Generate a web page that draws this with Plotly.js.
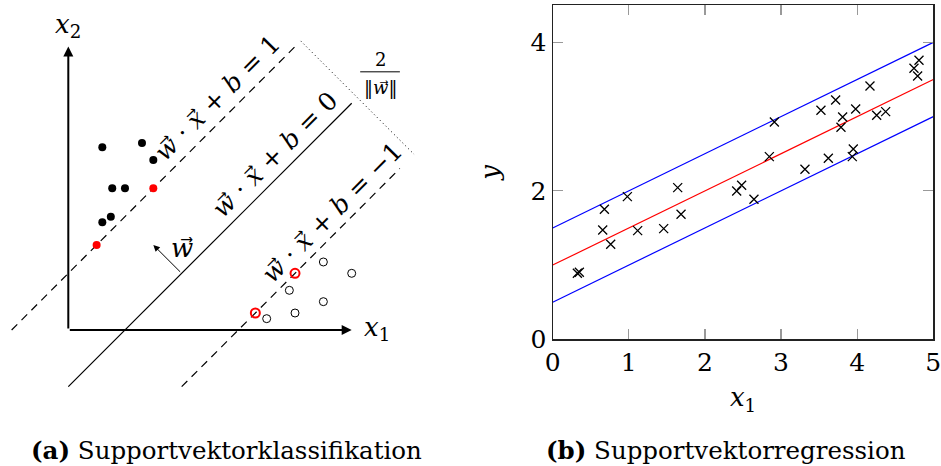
<!DOCTYPE html>
<html><head><meta charset="utf-8">
<script src="https://cdn.plot.ly/plotly-3.0.1.min.js"></script>
<style>html,body{margin:0;padding:0;background:#fff}#chart{width:941px;height:466px}</style>
</head><body><div id="chart"></div>
<script>
// ---- Panel (a): support vector classification (schematic units) ----
const classAx = [1.2, 2.6, 3.0, 1.55, 2.0, 1.2, 1.5];
const classAy = [6.45, 6.6, 6.0, 5.0, 5.0, 3.8, 4.0];
const svAx = [3.0, 1.0];
const svAy = [5.0, 3.0];
const classBx = [9.0, 10.0, 7.8, 9.0, 8.0, 7.0];
const classBy = [2.4, 2.0, 1.4, 1.0, 0.6, 0.4];
const svBx = [8.0, 6.6];
const svBy = [2.0, 0.6];
const hyperX = [0, 10],        hyperY = [-2, 8];
const marginPlusX = [-2, 8],   marginPlusY = [0, 10];
const marginMinusX = [4, 11.7], marginMinusY = [-2, 5.7];
const widthX = [8.2, 12.2],    widthY = [10.2, 6.2];
const wArrowX = [4, 3],        wArrowY = [2, 3];
const axisLen = 10;

// ---- Panel (b): support vector regression ----
const svrX = [0.324, 0.350, 0.679, 0.657, 0.762, 0.981, 1.116, 1.458, 1.642, 1.686,
              2.417, 2.482, 2.644, 2.846, 2.912, 3.314, 3.524, 3.621, 3.717, 3.809,
              3.787, 3.949, 3.936, 3.980, 4.168, 4.256, 4.374, 4.746, 4.812, 4.794];
const svrY = [0.889, 0.903, 1.752, 1.473, 1.280, 1.922, 1.464, 1.491, 2.043, 1.684,
              1.998, 2.075, 1.886, 2.461, 2.928, 2.290, 3.085, 2.439, 3.225, 2.996,
              2.856, 2.564, 2.461, 3.103, 3.413, 3.018, 3.067, 3.651, 3.759, 3.548];
const fitX = [0, 5];
const fitY = [1, 3.5];
const upperY = [1.5, 4];
const lowerY = [0.5, 3];
const xTicks = [0, 1, 2, 3, 4, 5];
const yTicks = [0, 2, 4];

const FONT = 'DejaVu Serif';
const ARROW = '<span style="font-family:DejaVu Sans">\u20d7</span>';
const vec = v => '<i>' + v + '</i>' + ARROW;

const traces = [
  {x: hyperX, y: hyperY, mode: 'lines', line: {color: '#000', width: 1.2}, xaxis: 'x', yaxis: 'y'},
  {x: marginPlusX, y: marginPlusY, mode: 'lines', line: {color: '#000', width: 1.2, dash: '8px,6px'}, xaxis: 'x', yaxis: 'y'},
  {x: marginMinusX, y: marginMinusY, mode: 'lines', line: {color: '#000', width: 1.2, dash: '8px,6px'}, xaxis: 'x', yaxis: 'y'},
  {x: widthX, y: widthY, mode: 'lines', line: {color: '#000', width: 1, dash: '1px,3px'}, xaxis: 'x', yaxis: 'y'},
  {x: classAx, y: classAy, mode: 'markers', marker: {color: '#000', size: 8}, xaxis: 'x', yaxis: 'y'},
  {x: svAx, y: svAy, mode: 'markers', marker: {color: '#ff0000', size: 8}, xaxis: 'x', yaxis: 'y'},
  {x: classBx, y: classBy, mode: 'markers', marker: {symbol: 'circle-open', color: '#000', size: 8, line: {width: 1}}, xaxis: 'x', yaxis: 'y'},
  {x: svBx, y: svBy, mode: 'markers', marker: {symbol: 'circle-open', color: '#ff0000', size: 9, line: {width: 2}}, xaxis: 'x', yaxis: 'y'},
  // panel b
  {x: fitX, y: upperY, mode: 'lines', line: {color: '#0000ff', width: 1.2}, xaxis: 'x2', yaxis: 'y2'},
  {x: fitX, y: fitY, mode: 'lines', line: {color: '#ff0000', width: 1.2}, xaxis: 'x2', yaxis: 'y2'},
  {x: fitX, y: lowerY, mode: 'lines', line: {color: '#0000ff', width: 1.2}, xaxis: 'x2', yaxis: 'y2'},
  {x: svrX, y: svrY, mode: 'markers', marker: {symbol: 'x-thin', size: 9, color: '#000', line: {color: '#000', width: 1.3}}, xaxis: 'x2', yaxis: 'y2'}
];

const U = 28.34; // px per schematic unit
const mathFont = {family: FONT, size: 25, color: '#000'};
const annotations = [
  // axis arrows
  {x: axisLen, y: 0, ax: 0, ay: 0, xref: 'x', yref: 'y', axref: 'x', ayref: 'y', showarrow: true, arrowhead: 2, arrowsize: 1, arrowwidth: 2, arrowcolor: '#000', text: ''},
  {x: 0, y: axisLen, ax: 0, ay: 0, xref: 'x', yref: 'y', axref: 'x', ayref: 'y', showarrow: true, arrowhead: 2, arrowsize: 1, arrowwidth: 2, arrowcolor: '#000', text: ''},
  {x: wArrowX[1], y: wArrowY[1], ax: wArrowX[0], ay: wArrowY[0], xref: 'x', yref: 'y', axref: 'x', ayref: 'y', showarrow: true, arrowhead: 2, arrowsize: 1.3, arrowwidth: 1, arrowcolor: '#000', text: ''},
  {x: 10.9, y: 0.07, xref: 'x', yref: 'y', xanchor: 'center', text: '<i>x</i><sub>1</sub>', showarrow: false, font: {family: FONT, size: 26}},
  {x: 0, y: 10.76, xref: 'x', yref: 'y', xanchor: 'center', text: '<i>x</i><sub>2</sub>', showarrow: false, font: {family: FONT, size: 26}},
  {x: 4.0, y: 2.9, xref: 'x', yref: 'y', xanchor: 'center', text: vec('w'), showarrow: false, font: {family: FONT, size: 26}},
  {x: 5.28, y: 8.19, xref: 'x', yref: 'y', xanchor: 'center', yanchor: 'middle', text: vec('w') + ' · ' + vec('x') + ' + <i>b</i> = 1', textangle: -45, showarrow: false, font: mathFont},
  {x: 7.29, y: 6.21, xref: 'x', yref: 'y', xanchor: 'center', yanchor: 'middle', text: vec('w') + ' · ' + vec('x') + ' + <i>b</i> = 0', textangle: -45, showarrow: false, font: mathFont},
  {x: 9.31, y: 4.16, xref: 'x', yref: 'y', xanchor: 'center', yanchor: 'middle', text: vec('w') + ' · ' + vec('x') + ' + <i>b</i> = −1', textangle: -45, showarrow: false, font: mathFont},
  {x: 11.0, y: 9.55, xref: 'x', yref: 'y', xanchor: 'center', text: '2', showarrow: false, font: {family: FONT, size: 18}},
  {x: 11.0, y: 8.55, xref: 'x', yref: 'y', xanchor: 'center', text: '‖' + vec('w') + '‖', showarrow: false, font: {family: FONT, size: 18}},
  // captions
  {x: 226/941, y: 1 - 450/466, xref: 'paper', yref: 'paper', xanchor: 'center', yanchor: 'middle', text: '<b>(a)</b> Supportvektorklassifikation', showarrow: false, font: {family: FONT, size: 24.5}},
  {x: 726/941, y: 1 - 450/466, xref: 'paper', yref: 'paper', xanchor: 'center', yanchor: 'middle', text: '<b>(b)</b> Supportvektorregression', showarrow: false, font: {family: FONT, size: 24.5}}
];

const layout = {
  width: 941, height: 466,
  margin: {l: 0, r: 0, t: 0, b: 0},
  paper_bgcolor: '#fff', plot_bgcolor: '#fff',
  showlegend: false,
  font: {family: FONT, color: '#000'},
  xaxis: {domain: [0, 470/941], range: [-68.3/U, (470-68.3)/U], visible: false, fixedrange: true},
  yaxis: {domain: [0, 1], range: [(330-466)/U, 330/U], visible: false, fixedrange: true},
  xaxis2: {
    domain: [552.7/941, 933.3/941], range: [0, 5], anchor: 'y2',
    tickvals: xTicks, ticktext: xTicks.map(String), ticks: 'inside', ticklen: 10, tickwidth: 1.2, tickcolor: '#999',
    ticklabeloverflow: 'allow', automargin: false,
    showline: true, linecolor: '#222', linewidth: 1.2, mirror: 'ticks', showgrid: false, zeroline: false,
    tickfont: {family: FONT, size: 25, color: '#000'},
    title: {text: '<i>x</i><sub>1</sub>', font: {family: FONT, size: 26}, standoff: 12}
  },
  yaxis2: {
    domain: [(466-339.3)/466, (466-5.3)/466], range: [0, 4.5], anchor: 'x2',
    tickvals: yTicks, ticks: 'inside', ticklen: 10, tickwidth: 1.2, tickcolor: '#999',
    ticklabeloverflow: 'allow', automargin: false,
    showline: true, linecolor: '#222', linewidth: 1.2, mirror: 'ticks', showgrid: false, zeroline: false,
    tickfont: {family: FONT, size: 25, color: '#000'},
    title: {text: '<i>y</i>', font: {family: FONT, size: 26}, standoff: 23}
  },
  shapes: [
    {type: 'line', xref: 'x', yref: 'y', x0: 10.3, x1: 11.7, y0: 9.11, y1: 9.11, line: {color: '#000', width: 1}}
  ],
  annotations: annotations
};

Plotly.newPlot('chart', traces, layout, {staticPlot: true, displayModeBar: false});
</script>
</body></html>
